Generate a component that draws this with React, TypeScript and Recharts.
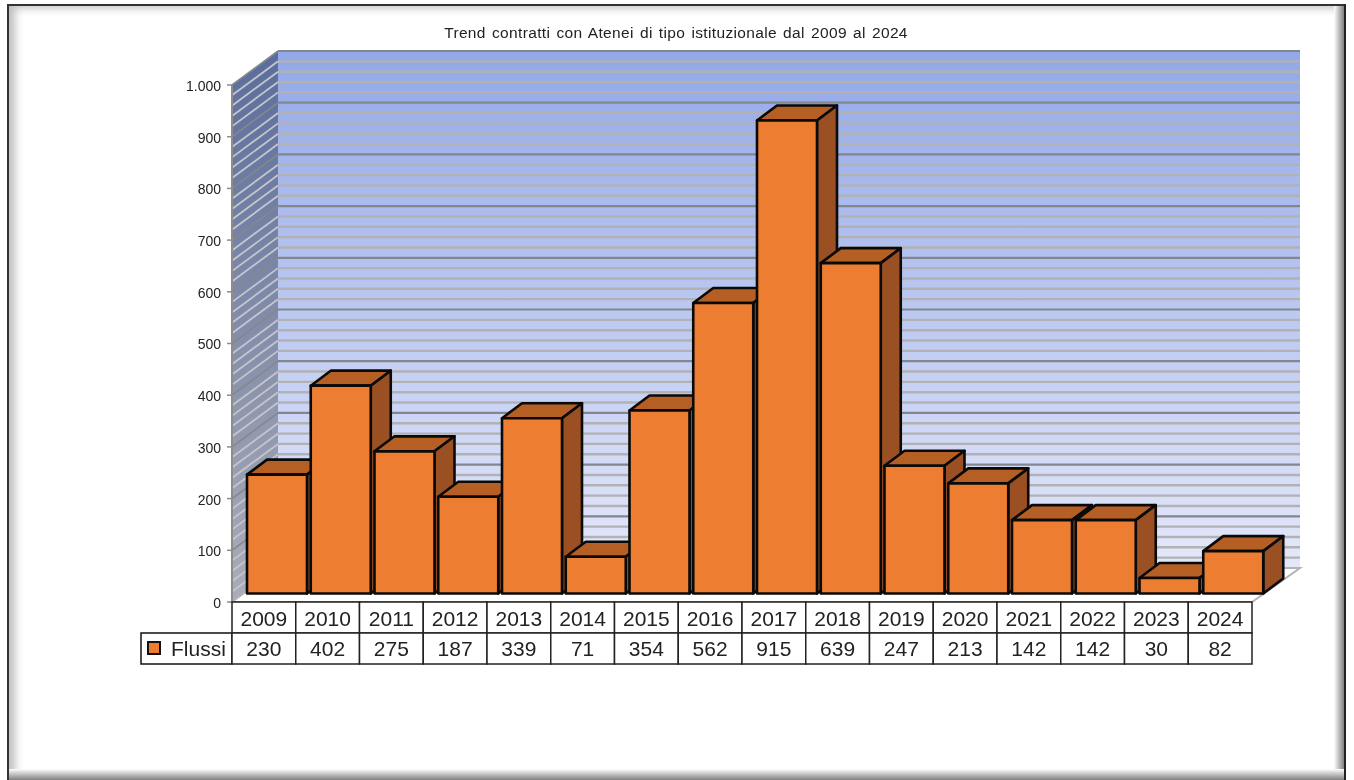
import React from 'react';
import { BarChart, Bar, XAxis, YAxis, CartesianGrid } from 'recharts';

const TITLE = 'Trend contratti con Atenei di tipo istituzionale dal 2009 al 2024';
const SERIES_NAME = 'Flussi';
const years = ['2009', '2010', '2011', '2012', '2013', '2014', '2015', '2016', '2017', '2018', '2019', '2020', '2021', '2022', '2023', '2024'];
const flussi = [230, 402, 275, 187, 339, 71, 354, 562, 915, 639, 247, 213, 142, 142, 30, 82];
const yTicks = [0, 100, 200, 300, 400, 500, 600, 700, 800, 900, 1000];
const gridValues = Array.from({ length: 51 }, (_, i) => i * 20);

const data = years.map((year, i) => ({ year, flussi: flussi[i] }));

const FONT = '"Liberation Sans", Arial, sans-serif';
const WIDTH = 1354;
const HEIGHT = 780;
// front plane of the 3D box
const LEFT = 232;
const RIGHT = 1252;
const TOP = 85;
const BOTTOM = 602;
// depth of the box and of one bar
const DEPTH_X = 46;
const DEPTH_Y = 34;
const BACK_RIGHT = 1300;
const BAR_SHIFT_X = 13;
const BAR_SHIFT_Y = 8.5;
const BAR_DEPTH_X = 20;
const BAR_DEPTH_Y = 15;
const ROW_HEIGHT = 31;

const Walls = () => (
  <g>
    <defs>
      <linearGradient id="backWall" x1="0" y1="0" x2="0" y2="1">
        <stop offset="0%" stopColor="#92A8E8" />
        <stop offset="100%" stopColor="#E4E8FA" />
      </linearGradient>
      <linearGradient id="sideWall" x1="0" y1="0" x2="0" y2="1">
        <stop offset="0%" stopColor="#5B6D9C" />
        <stop offset="100%" stopColor="#ABADB8" />
      </linearGradient>
    </defs>
    <rect x={LEFT + DEPTH_X} y={TOP - DEPTH_Y} width={BACK_RIGHT - LEFT - DEPTH_X} height={BOTTOM - TOP} fill="url(#backWall)" />
    <polygon
      points={`${LEFT},${TOP} ${LEFT + DEPTH_X},${TOP - DEPTH_Y} ${LEFT + DEPTH_X},${BOTTOM - DEPTH_Y} ${LEFT},${BOTTOM}`}
      fill="url(#sideWall)"
    />
    <polygon
      points={`${LEFT},${BOTTOM} ${LEFT + DEPTH_X},${BOTTOM - DEPTH_Y} ${BACK_RIGHT},${BOTTOM - DEPTH_Y} ${RIGHT},${BOTTOM}`}
      fill="#FFFFFF"
      stroke="#B4B4B4"
      strokeWidth={2}
    />
  </g>
);

// one gridline continues from the side wall over the back wall;
// the first one also paints the walls so that they stay under the rest of the grid
const GridLine = (props: any) => {
  const { x1, y1, index } = props;
  const major = index % 5 === 0;
  const backY = y1 - DEPTH_Y;
  if (index === 0) {
    return (
      <g key={props.key}>
        <Walls />
      </g>
    );
  }
  return (
    <g key={props.key}>
      <line x1={x1} y1={y1} x2={x1 + DEPTH_X} y2={backY} stroke={major ? '#85878F' : '#C4C6CC'} strokeWidth={major ? 1.6 : 1.8} />
      <line x1={x1 + DEPTH_X} y1={backY} x2={BACK_RIGHT} y2={backY} stroke={major ? '#84868E' : '#B2B2B4'} strokeWidth={major ? 2.2 : 2.4} />
    </g>
  );
};

const Bar3D = (props: any) => {
  const { x, y, width, height } = props;
  const fx = x + BAR_SHIFT_X;
  const fy = y - BAR_SHIFT_Y;
  const r = fx + width;
  const b = fy + height;
  return (
    <g stroke="#0A0A0A" strokeWidth={2.6} strokeLinejoin="round">
      <polygon
        points={`${fx},${fy} ${fx + BAR_DEPTH_X},${fy - BAR_DEPTH_Y} ${r + BAR_DEPTH_X},${fy - BAR_DEPTH_Y} ${r},${fy}`}
        fill="#B65F24"
      />
      <polygon
        points={`${r},${fy} ${r + BAR_DEPTH_X},${fy - BAR_DEPTH_Y} ${r + BAR_DEPTH_X},${b - BAR_DEPTH_Y} ${r},${b}`}
        fill="#9A5022"
      />
      <rect x={fx} y={fy} width={width} height={height} fill="#ED7D31" />
    </g>
  );
};

// the axis tick also draws its column of the data table
const TableTick = (props: any) => {
  const { x, index, payload } = props;
  const cellW = (RIGHT - LEFT) / years.length;
  const left = x - cellW / 2;
  return (
    <g>
      <rect x={left} y={BOTTOM} width={cellW} height={ROW_HEIGHT} fill="#FFFFFF" stroke="#222222" strokeWidth={1.5} />
      <rect x={left} y={BOTTOM + ROW_HEIGHT} width={cellW} height={ROW_HEIGHT} fill="#FFFFFF" stroke="#222222" strokeWidth={1.5} />
      <text x={x} y={BOTTOM + 24} textAnchor="middle" fontFamily={FONT} fontSize={21} fill="#222222">
        {payload.value}
      </text>
      <text x={x} y={BOTTOM + ROW_HEIGHT + 23} textAnchor="middle" fontFamily={FONT} fontSize={21} fill="#222222">
        {flussi[index]}
      </text>
    </g>
  );
};

const formatTick = (v: number) => (v === 1000 ? '1.000' : String(v));

const App: React.FC = () => {
  return (
    <div
      style={{
        position: 'absolute',
        left: 0,
        top: 0,
        width: WIDTH,
        height: HEIGHT,
        background: '#FFFFFF',
        overflow: 'hidden',
      }}
    >
      <div style={{ filter: 'blur(0.4px)' }}>
        <BarChart
          width={WIDTH}
          height={HEIGHT}
          data={data}
          margin={{ top: TOP, left: LEFT - 60, right: WIDTH - RIGHT, bottom: HEIGHT - BOTTOM - 62 }}
          barCategoryGap={2}
        >
          <CartesianGrid vertical={false} horizontalValues={gridValues} syncWithTicks={false} horizontal={GridLine as any} />
          <XAxis
            dataKey="year"
            height={62}
            interval={0}
            axisLine={false}
            tickLine={false}
            tick={TableTick as any}
          />
          <YAxis
            width={60}
            domain={[0, 1000]}
            ticks={yTicks}
            interval={0}
            tickFormatter={formatTick}
            axisLine={{ stroke: '#8C8C8C', strokeWidth: 2 }}
            tickLine={{ stroke: '#8C8C8C', strokeWidth: 1.5 }}
            tickSize={5}
            tickMargin={6}
            tick={{ fontFamily: FONT, fontSize: 14, fill: '#222222', dy: 1 }}
          />
          <Bar dataKey="flussi" isAnimationActive={false} shape={Bar3D as any} />
          <line x1={LEFT} y1={BOTTOM} x2={RIGHT} y2={BOTTOM} stroke="#8C8C8C" strokeWidth={2} />
          <text
            x={676}
            y={38}
            textAnchor="middle"
            fontFamily={FONT}
            fontSize={15.5}
            letterSpacing={0.35}
            wordSpacing={1.5}
            fill="#222222"
          >
            {TITLE}
          </text>
          <rect x={141} y={BOTTOM + ROW_HEIGHT} width={LEFT - 141} height={ROW_HEIGHT} fill="#FFFFFF" stroke="#111111" strokeWidth={1.5} />
          <rect x={148} y={642} width={12} height={12} fill="#ED7D31" stroke="#111111" strokeWidth={2} />
          <text x={171} y={BOTTOM + ROW_HEIGHT + 23} fontFamily={FONT} fontSize={21} fill="#222222">
            {SERIES_NAME}
          </text>
        </BarChart>
      </div>
      <div
        style={{
          position: 'absolute',
          left: 7,
          top: 4,
          width: 1339,
          height: 790,
          boxSizing: 'border-box',
          borderLeft: '2px solid #333333',
          borderTop: '2px solid #333333',
          borderRight: '3px solid #222222',
          boxShadow: 'inset 6px 2px 8px #BEBEBE',
          pointerEvents: 'none',
        }}
      />
      <div style={{ position: 'absolute', left: 1334, top: 6, width: 10, height: 774, background: 'linear-gradient(to right, #FFFFFF, #808080)' }} />
      <div style={{ position: 'absolute', left: 9, top: 769, width: 1335, height: 11, background: 'linear-gradient(to bottom, #FFFFFF, #808080)' }} />
    </div>
  );
};

export default App;
